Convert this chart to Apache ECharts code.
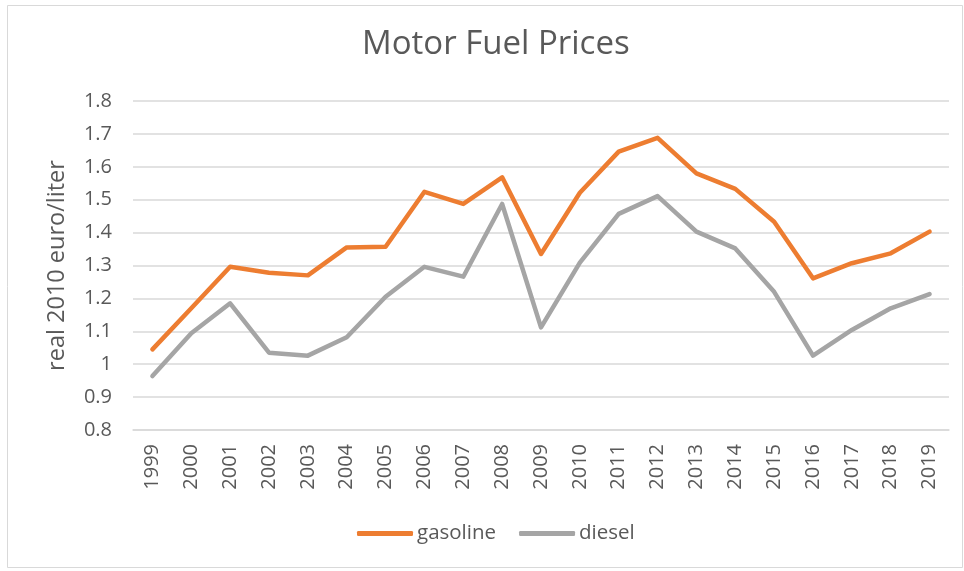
<!DOCTYPE html>
<html>
<head>
<meta charset="utf-8">
<script src="https://cdn.jsdelivr.net/npm/echarts@6/dist/echarts.min.js"></script>
<style>
  html, body { margin: 0; padding: 0; background: #fff; }
  #chart { width: 964px; height: 571px; }
</style>
</head>
<body>
<div id="chart"></div>
<script>
// Motor fuel prices, real 2010 euro per liter
const years = ['1999','2000','2001','2002','2003','2004','2005','2006','2007','2008','2009',
               '2010','2011','2012','2013','2014','2015','2016','2017','2018','2019'];
const gasoline = [1.045, 1.170, 1.296, 1.278, 1.270, 1.355, 1.357, 1.524, 1.487, 1.568, 1.335,
                  1.521, 1.646, 1.688, 1.580, 1.533, 1.433, 1.261, 1.307, 1.337, 1.403];
const diesel = [0.964, 1.094, 1.185, 1.035, 1.026, 1.082, 1.205, 1.296, 1.266, 1.487, 1.112,
                1.309, 1.457, 1.511, 1.403, 1.352, 1.220, 1.026, 1.104, 1.170, 1.213];
const yTicks = { min: 0.8, max: 1.8, step: 0.1 };

const textColor = '#595959';
const gridColor = '#D9D9D9';
const fontFamily = '"Open Sans", "Liberation Sans", sans-serif';

const chart = echarts.init(document.getElementById('chart'), null, { renderer: 'canvas' });
chart.setOption({
  backgroundColor: '#fff',
  animation: false,
  textStyle: { fontFamily: fontFamily },
  graphic: [{
    type: 'rect',
    shape: { x: 7.5, y: 5.5, width: 955, height: 562 },
    style: { fill: 'none', stroke: gridColor, lineWidth: 1 },
    silent: true
  }],
  title: {
    text: 'Motor Fuel Prices',
    left: 357,
    top: 23,
    textStyle: { color: textColor, fontSize: 33, fontWeight: 'normal', fontFamily: fontFamily }
  },
  grid: { left: 133, right: 15, top: 101, bottom: 141, containLabel: false },
  legend: {
    bottom: 22,
    left: 352,
    icon: 'roundRect',
    itemWidth: 56,
    itemHeight: 5,
    itemGap: 23,
    textStyle: { color: textColor, fontSize: 20.5, fontFamily: fontFamily, padding: [0, 0, 0, -1] },
    data: ['gasoline', 'diesel']
  },
  xAxis: {
    type: 'category',
    data: years,
    boundaryGap: true,
    axisLine: { show: true, lineStyle: { color: gridColor, width: 1.5 } },
    axisTick: { show: false },
    axisLabel: { rotate: 90, color: textColor, fontSize: 20, margin: 14, interval: 0 }
  },
  yAxis: {
    type: 'value',
    min: yTicks.min,
    max: yTicks.max,
    interval: yTicks.step,
    name: 'real 2010 euro/liter',
    nameLocation: 'middle',
    nameRotate: 90,
    nameGap: 64,
    nameTextStyle: { color: textColor, fontSize: 23.5 },
    axisLine: { show: false },
    axisTick: { show: false },
    axisLabel: {
      color: textColor, fontSize: 20, margin: 21,
      formatter: v => String(Math.round(v * 10) / 10)
    },
    splitLine: { lineStyle: { color: gridColor, width: 1.5 } }
  },
  series: [
    {
      name: 'gasoline', type: 'line', data: gasoline, symbol: 'none',
      itemStyle: { color: '#ED7D31' },
      lineStyle: { color: '#ED7D31', width: 4.5, cap: 'round', join: 'round' }
    },
    {
      name: 'diesel', type: 'line', data: diesel, symbol: 'none',
      itemStyle: { color: '#A5A5A5' },
      lineStyle: { color: '#A5A5A5', width: 4.5, cap: 'round', join: 'round' }
    }
  ]
});
</script>
</body>
</html>
